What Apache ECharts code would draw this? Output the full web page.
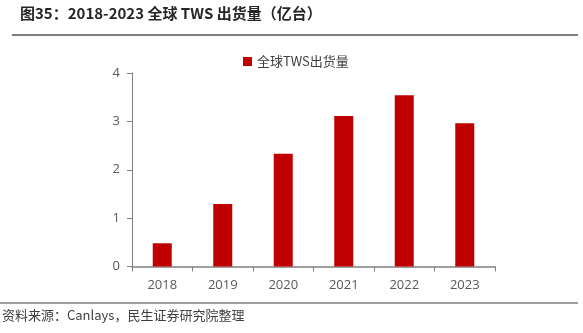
<!DOCTYPE html>
<html>
<head>
<meta charset="utf-8">
<script src="https://cdn.jsdelivr.net/npm/echarts@6/dist/echarts.min.js"></script>
<style>
  html, body { margin: 0; padding: 0; background: #fff; }
  #chart { width: 583px; height: 333px; }
</style>
</head>
<body>
<div id="chart"></div>
<script>
// Global TWS shipments, 2018-2023 (hundred million units)
var years = ['2018', '2019', '2020', '2021', '2022', '2023'];
var shipments = [0.48, 1.29, 2.33, 3.11, 3.54, 2.96];
var seriesName = '全球TWS出货量';
var titleText = '图35：2018-2023 全球 TWS 出货量（亿台）';
var sourceText = '资料来源：Canlays，民生证券研究院整理';

var font = '"Noto Sans CJK SC", "Open Sans", sans-serif';
var numFont = '"Open Sans", "Noto Sans CJK SC", sans-serif';
var chart = echarts.init(document.getElementById('chart'), null, { renderer: 'canvas' });

chart.setOption({
  animation: false,
  backgroundColor: '#fff',
  textStyle: { fontFamily: font },
  graphic: [
    {
      type: 'text', left: 20, top: 6,
      style: { text: titleText, font: 'bold 15px ' + font, fill: '#262626' }
    },
    {
      type: 'line', shape: { x1: 12, y1: 35, x2: 578, y2: 35 },
      style: { stroke: '#7f7f7f', lineWidth: 2 }
    },
    {
      type: 'line', shape: { x1: 0, y1: 303, x2: 578, y2: 303 },
      style: { stroke: '#7f7f7f', lineWidth: 1.5 }
    },
    {
      type: 'text', left: 2, top: 309,
      style: { text: sourceText, font: '13px ' + font, fill: '#404040' }
    }
  ],
  legend: {
    top: 50, left: 238,
    itemWidth: 9, itemHeight: 9, itemGap: 4,
    icon: 'rect',
    textStyle: { fontSize: 13, color: '#404040', fontFamily: font },
    data: [seriesName]
  },
  grid: { left: 132, right: 88, top: 73, bottom: 66.5 },
  xAxis: {
    type: 'category',
    data: years,
    axisLine: { lineStyle: { color: '#808080', width: 1.5 } },
    axisTick: { show: true, length: 5, lineStyle: { color: '#808080' } },
    axisLabel: { color: '#595959', fontSize: 13, margin: 12, fontFamily: numFont }
  },
  yAxis: {
    type: 'value',
    min: 0, max: 4, interval: 1,
    axisLine: { show: true, lineStyle: { color: '#808080' } },
    axisTick: { show: true, length: 5, lineStyle: { color: '#808080' } },
    splitLine: { show: false },
    axisLabel: { color: '#595959', fontSize: 13, margin: 12, fontFamily: numFont }
  },
  series: [{
    name: seriesName,
    type: 'bar',
    data: shipments,
    barWidth: 19,
    itemStyle: { color: '#C00000' }
  }]
});
</script>
</body>
</html>
